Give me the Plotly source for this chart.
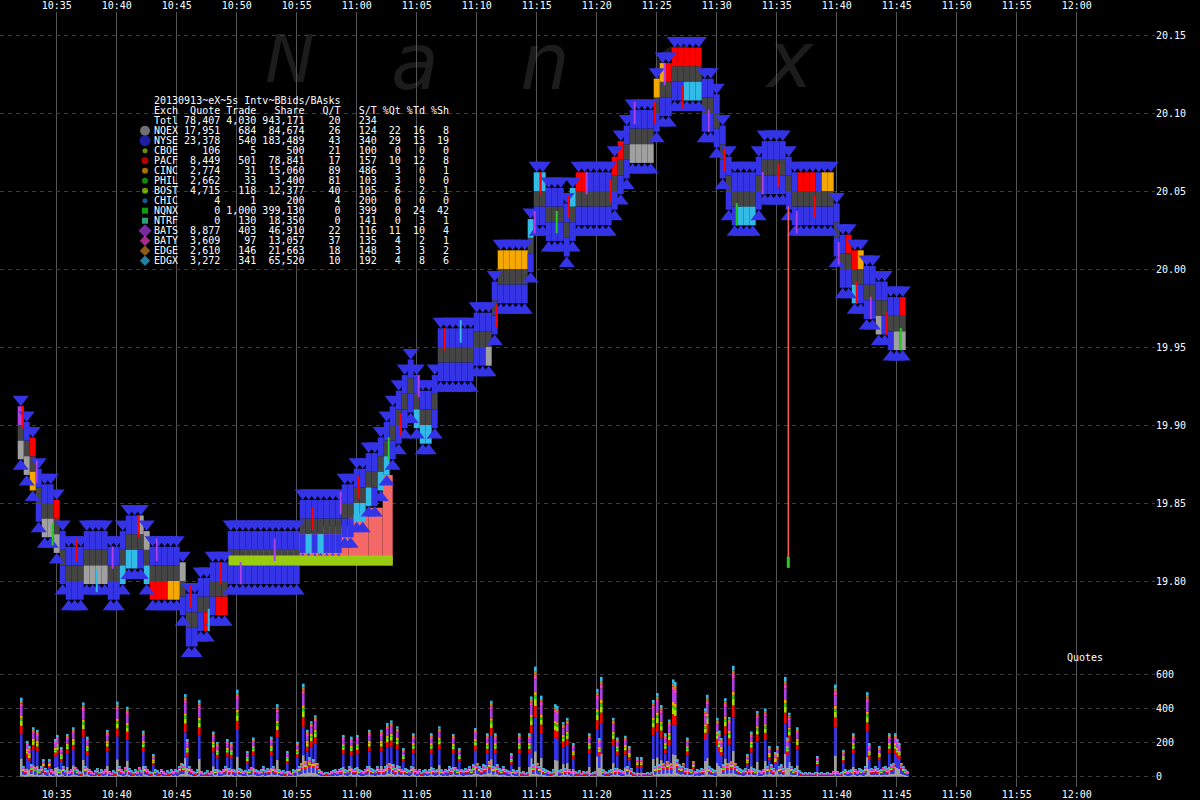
import plotly.graph_objects as go
import pandas as pd

DAY = "2013-09-13 "

# ---------------- NBBO, sampled every 30 s from 10:32:00 ----------------
ask = [
    19.90, 19.89, 19.88, 19.86, 19.85, 19.85, 19.84, 19.82, 19.81, 19.81,
    19.81, 19.82, 19.82, 19.82, 19.82, 19.81, 19.81, 19.82, 19.83, 19.83,
    19.83, 19.82, 19.81, 19.81, 19.81, 19.81, 19.81, 19.80, 19.78, 19.78,
    19.79, 19.79, 19.80, 19.80, 19.80, 19.82, 19.82, 19.82, 19.82, 19.82,
    19.82, 19.82, 19.82, 19.82, 19.82, 19.82, 19.82, 19.84, 19.84, 19.84,
    19.84, 19.84, 19.84, 19.84, 19.85, 19.85, 19.86, 19.86, 19.87, 19.87,
    19.88, 19.89, 19.90, 19.91, 19.92, 19.93, 19.92, 19.91, 19.91, 19.92,
    19.95, 19.95, 19.95, 19.95, 19.95, 19.95, 19.96, 19.96, 19.96, 19.98,
    20.00, 20.00, 20.00, 20.00, 20.00, 20.02, 20.05, 20.05, 20.04, 20.04,
    20.04, 20.03, 20.04, 20.05, 20.05, 20.05, 20.05, 20.05, 20.05, 20.06,
    20.07, 20.08, 20.09, 20.09, 20.09, 20.09, 20.11, 20.12, 20.12, 20.13,
    20.13, 20.13, 20.13, 20.13, 20.11, 20.11, 20.10, 20.08, 20.06, 20.05,
    20.05, 20.05, 20.05, 20.06, 20.07, 20.07, 20.07, 20.07, 20.06, 20.05,
    20.05, 20.05, 20.05, 20.05, 20.05, 20.05, 20.03, 20.01, 20.01, 20.00,
    20.00, 19.99, 19.99, 19.98, 19.98, 19.97, 19.97, 19.97,
]
bid = [
    19.89, 19.88, 19.87, 19.85, 19.84, 19.84, 19.83, 19.81, 19.80, 19.80,
    19.80, 19.81, 19.81, 19.81, 19.81, 19.80, 19.80, 19.81, 19.82, 19.82,
    19.82, 19.81, 19.80, 19.80, 19.80, 19.80, 19.80, 19.79, 19.77, 19.77,
    19.78, 19.78, 19.79, 19.79, 19.79, 19.81, 19.81, 19.81, 19.81, 19.81,
    19.81, 19.81, 19.81, 19.81, 19.81, 19.81, 19.81, 19.83, 19.83, 19.83,
    19.83, 19.83, 19.83, 19.83, 19.84, 19.84, 19.85, 19.85, 19.86, 19.86,
    19.87, 19.88, 19.89, 19.90, 19.91, 19.92, 19.91, 19.90, 19.90, 19.91,
    19.94, 19.94, 19.94, 19.94, 19.94, 19.94, 19.95, 19.95, 19.95, 19.97,
    19.99, 19.99, 19.99, 19.99, 19.99, 20.01, 20.04, 20.04, 20.03, 20.03,
    20.03, 20.02, 20.03, 20.04, 20.04, 20.04, 20.04, 20.04, 20.04, 20.05,
    20.06, 20.07, 20.08, 20.08, 20.08, 20.08, 20.10, 20.11, 20.11, 20.12,
    20.12, 20.12, 20.12, 20.12, 20.10, 20.10, 20.09, 20.07, 20.05, 20.04,
    20.04, 20.04, 20.04, 20.05, 20.06, 20.06, 20.06, 20.06, 20.05, 20.04,
    20.04, 20.04, 20.04, 20.04, 20.04, 20.04, 20.02, 20.00, 20.00, 19.99,
    19.99, 19.98, 19.98, 19.97, 19.97, 19.96, 19.96, 19.96,
]
# exchange at the best ask / best bid (one letter per 30 s sample)
ask_ex = ("BNPNNNPNNN" "NNNNNNNNNN" "QQNNNNNQNN" "NNNNNNNNNN" "NNNNNNNNNN"
          "NNNNNNNNNN" "NNNNNNNNNN" "NNNNNNNNNN" "CCCCCXXXNN" "NNXPPNNNNP"
          "PNNNNNCCPP" "PPPPNNNNNN" "NNNNNNNNNN" "PPPNCCNNPP" "CNNNNNNP")
bid_ex = ("QQCNQQQNNN" "NQQQQNNXXX" "NXPPPCCNNN" "NPNPPNNNNN" "NNNNNNNNXN"
          "XNNNNNXXXN" "XXNNNNXXXN" "NNNNNNNNQN" "NNNNNNNNNN" "NNNNNNNNNN"
          "NNQQQQNNNN" "NXXXNNNNNN" "XXXNNNNNNN" "NNNNNNNNNX" "NNNQNNQQ")

# pink shaded region (stepped top) and long-standing 19.81 bid band
salmon_start = ["10:50:40", "10:55:10", "10:56:50", "10:59:20", "11:01:00", "11:02:10"]
salmon_end   = ["10:55:10", "10:56:50", "10:59:20", "11:01:00", "11:02:10", "11:03:00"]
salmon_top   = [19.820, 19.831, 19.835, 19.843, 19.847, 19.868]
salmon_base  = 19.81
band_start, band_end, band_price = "10:49:20", "11:03:00", 19.81

# bad print
bad_time, bad_high, bad_low = "11:35:58", 20.04, 19.812

# short quote streaks from other exchanges
streak_t = ["10:32:10", "10:33:20", "10:34:40", "10:36:40", "10:38:20", "10:39:40", "10:41:50",
            "10:43:20", "10:46:10", "10:47:40", "10:48:40", "10:50:20", "10:53:10", "10:56:20",
            "10:58:40", "11:00:10", "11:02:40", "11:03:40", "11:05:10", "11:07:20", "11:08:40",
            "11:11:40", "11:14:50", "11:15:20", "11:16:40", "11:17:40", "11:19:10", "11:21:10",
            "11:23:10", "11:24:50", "11:25:40", "11:27:10", "11:29:20", "11:30:40", "11:31:40",
            "11:33:50", "11:35:10", "11:36:40", "11:38:10", "11:40:10", "11:41:40", "11:42:50",
            "11:44:10", "11:45:20"]
streak_px = [19.905, 19.87, 19.83, 19.82, 19.80, 19.815, 19.835, 19.82, 19.79, 19.775, 19.805,
             19.805, 19.82, 19.84, 19.85, 19.86, 19.885, 19.90, 19.925, 19.955, 19.96, 19.97,
             20.03, 20.055, 20.03, 20.04, 20.055, 20.05, 20.10, 20.10, 20.125, 20.11, 20.095,
             20.07, 20.035, 20.055, 20.06, 20.03, 20.04, 20.01, 19.985, 19.975, 19.965, 19.955]
streak_ex = ["P", "B", "H", "P", "X", "B", "P", "B", "P", "X", "P", "B", "B", "P", "B", "P",
             "H", "P", "B", "P", "X", "P", "B", "P", "H", "P", "B", "P", "B", "P", "B", "P",
             "B", "P", "H", "B", "P", "B", "P", "B", "P", "B", "P", "H"]

# quotes per 10 s from 10:32:00 (one row per minute)
quotes = [
    463, 60, 45, 210, 176, 70,
    290, 55, 275, 40, 60, 100,
    50, 35, 100, 45, 30, 220,
    245, 40, 170, 60, 35, 250,
    30, 45, 290, 55, 40, 30,
    25, 435, 60, 235, 45, 30,
    20, 35, 50, 25, 40, 30,
    45, 275, 30, 20, 35, 25,
    440, 60, 45, 30, 55, 410,
    50, 35, 25, 40, 30, 55,
    35, 270, 60, 45, 30, 25,
    130, 40, 35, 25, 45, 30,
    20, 35, 25, 40, 30, 45,
    35, 60, 80, 70, 484, 220,
    60, 45, 30, 25, 40, 450,
    30, 20, 25, 35, 20, 30,
    265, 40, 200, 35, 30, 45,
    60, 220, 50, 200, 45, 35,
    510, 50, 40, 30, 35, 150,
    40, 55, 230, 45, 35, 30,
    40, 60, 35, 50, 45, 235,
    60, 45, 425, 40, 30, 35,
    25, 150, 30, 20, 40, 35,
    205, 60, 80, 545, 90, 275,
    110, 325, 100, 360, 80, 40,
    30, 20, 25, 25, 20, 30,
    35, 40, 30, 45, 50, 245,
    40, 35, 60, 235, 45, 50,
    245, 40, 35, 30, 45, 60,
    275, 50, 40, 35, 60, 45,
    275, 45, 60, 315, 80, 330,
    70, 50, 295, 60, 45, 165,
    50, 40, 35, 60, 255, 45,
    30, 45, 25, 35, 40, 30,
    40, 255, 50, 35, 45, 295,
    40, 30, 45, 35, 60, 50,
    250, 55, 40, 165, 45, 35,
    50, 45, 60, 40, 70, 285,
    80, 60, 50, 70, 65, 255,
    90, 445, 60, 255, 70, 50,
    40, 60, 45, 35, 30, 135,
    40, 30, 35, 255, 25, 30,
    20, 25, 255, 470, 70, 645,
    80, 60, 475, 50, 40, 35,
    30, 25, 40, 425, 415, 35,
    40, 320, 50, 345, 45, 30,
    195, 30, 25, 35, 20, 30,
    25, 30, 255, 20, 25, 30,
    515, 225, 585, 40, 30, 25,
    35, 40, 345, 50, 230, 45,
    35, 30, 240, 60, 180, 50,
    25, 20, 110, 20, 110, 20,
    20, 25, 20, 25, 450, 60,
    490, 70, 420, 80, 255, 90,
    335, 80, 570, 555, 100, 70,
    60, 80, 50, 230, 45, 40,
    90, 30, 40, 35, 50, 45,
    400, 480, 60, 50, 40, 35,
    345, 270, 225, 70, 460, 80,
    350, 90, 650, 80, 60, 50,
    40, 35, 50, 130, 45, 265,
    50, 40, 385, 35, 30, 45,
    400, 60, 180, 70, 50, 140,
    180, 60, 70, 50, 585, 230,
    375, 60, 40, 50, 290, 35,
    25, 20, 25, 20, 25, 20,
    20, 25, 120, 20, 25, 20,
    20, 25, 20, 20, 30, 540,
    30, 20, 25, 155, 40, 30,
    35, 40, 255, 45, 30, 50,
    40, 35, 60, 495, 195, 50,
    45, 60, 50, 180, 40, 55,
    60, 50, 255, 70, 80, 255,
    220, 195, 80, 60, 40, 30,
]

# summary table
tbl_title = "20130913~eX~5s Intv~BBids/BAsks"
tbl_exch  = ["Totl", "NQEX", "NYSE", "CBOE", "PACF", "CINC", "PHIL", "BOST", "CHIC", "NQNX", "NTRF", "BATS", "BATY", "EDGE", "EDGX"]
tbl_quote = [78407, 17951, 23378, 106, 8449, 2774, 2662, 4715, 4, 0, 0, 8877, 3609, 2610, 3272]
tbl_trade = [4030, 684, 540, 5, 501, 31, 33, 118, 1, 1000, 130, 403, 97, 146, 341]
tbl_share = [943171, 84674, 183489, 500, 78841, 15060, 3400, 12377, 200, 399130, 18350, 46910, 13057, 21663, 65520]
tbl_qt    = [20, 26, 43, 21, 17, 89, 81, 40, 4, 0, 0, 22, 37, 18, 10]
tbl_st    = [234, 124, 340, 100, 157, 486, 103, 105, 200, 399, 141, 116, 135, 148, 192]
tbl_pqt   = [None, 22, 29, 0, 10, 3, 3, 6, 0, 0, 0, 11, 4, 3, 4]
tbl_ptd   = [None, 16, 13, 0, 12, 0, 0, 2, 0, 24, 3, 10, 2, 3, 8]
tbl_psh   = [None, 8, 19, 0, 8, 1, 0, 1, 0, 42, 1, 4, 1, 2, 6]

time_ticks = ["10:35", "10:40", "10:45", "10:50", "10:55", "11:00", "11:05", "11:10", "11:15",
              "11:20", "11:25", "11:30", "11:35", "11:40", "11:45", "11:50", "11:55", "12:00"]
price_ticks = [19.80, 19.85, 19.90, 19.95, 20.00, 20.05, 20.10, 20.15]
quote_ticks = [0, 200, 400, 600]

# ---------------- styling ----------------
EXC = {"N": "#3434e6", "Q": "#a0a0a0", "P": "#ff0000", "C": "#f5a800",
       "X": "#33bbe8", "B": "#b040e6", "Y": "#ff3cc8", "H": "#22cc22"}
TBL_MARK = {"NQEX": ("circle", "#a0a0a0", 10), "NYSE": ("circle", "#2a2ae6", 11),
            "CBOE": ("circle", "#96c814", 5), "PACF": ("circle", "#ff0000", 7),
            "CINC": ("circle", "#f0a000", 6), "PHIL": ("circle", "#1ebe1e", 6),
            "BOST": ("circle", "#a0e600", 6), "CHIC": ("circle", "#1e82c8", 5),
            "NQNX": ("square", "#14dc14", 6), "NTRF": ("square", "#3ce6aa", 6),
            "BATS": ("diamond", "#aa3ce6", 10), "BATY": ("diamond", "#f03cc8", 8),
            "EDGE": ("diamond", "#c8821e", 8), "EDGX": ("diamond", "#32b4e6", 8)}
VOL_STACK = [("NQEX", "#a0a0a0"), ("NYSE", "#3434e6"), ("PACF", "#ff0000"),
             ("BOST", "#aadd00"), ("PHIL", "#22cc22"), ("CINC", "#f5a800"),
             ("BATS", "#b040e6"), ("BATY", "#ff3cc8"), ("EDGE", "#c8821e"),
             ("EDGX", "#33bbe8")]
FONT = "DejaVu Sans Mono"

# plot area geometry (pixels)
PL, PR, PT, PB = 0, 1155, 12, 787
PX_PER_MIN = 12.0
T_LEFT = pd.Timestamp(DAY + "10:35:00") - pd.Timedelta(minutes=56.7 / PX_PER_MIN)
T_RIGHT = T_LEFT + pd.Timedelta(minutes=(PR - PL) / PX_PER_MIN)
PX_PER_CENT = 15.6
Y_TOP = 20.15 + (35 - PT) / PX_PER_CENT / 100
Y_BOT = 20.15 - (PB - 35) / PX_PER_CENT / 100
PPX = (Y_TOP - Y_BOT) / (PB - PT)           # price per pixel
Q_PPX = 600 / 102.4                          # quotes per pixel
Q_BOT = -(PB - 776.7) * Q_PPX
Q_TOP = (776.7 - PT) * Q_PPX


def tstamp(hms):
    return pd.Timestamp(DAY + hms)


def px_to_time(px):
    return T_LEFT + pd.Timedelta(minutes=(px - PL) / PX_PER_MIN)


def px_to_price(py):
    return Y_TOP - (py - PT) * PPX


def paper_x(px):
    return (px - PL) / (PR - PL)


def paper_y(py):
    return (PB - py) / (PB - PT)


t0 = tstamp("10:32:00")
times = [t0 + pd.Timedelta(seconds=30 * k) for k in range(len(ask))]
vol_times = [t0 + pd.Timedelta(seconds=10 * i + 5) for i in range(len(quotes))]

fig = go.Figure()

# pink stepped region
s_start = [tstamp(s) for s in salmon_start]
s_end = [tstamp(s) for s in salmon_end]
fig.add_trace(go.Bar(
    x=[a + (b - a) / 2 for a, b in zip(s_start, s_end)],
    y=[top - salmon_base for top in salmon_top],
    base=[salmon_base] * len(salmon_top),
    width=[(b - a).total_seconds() * 1000 for a, b in zip(s_start, s_end)],
    marker=dict(color="#f46868", line=dict(width=0)), hoverinfo="skip"))

BW = 30000
LEVEL = 0.012
# spread boxes
fig.add_trace(go.Bar(x=times, y=[a - b for a, b in zip(ask, bid)], base=bid, width=BW,
                     marker=dict(color="#444444", line=dict(width=0)), hoverinfo="skip"))
# best ask / best bid blocks
fig.add_trace(go.Bar(x=times, y=[LEVEL] * len(ask), base=ask, width=BW,
                     marker=dict(color=[EXC[c] for c in ask_ex], line=dict(width=0)),
                     hoverinfo="skip"))
fig.add_trace(go.Bar(x=times, y=[LEVEL] * len(bid), base=[b - LEVEL for b in bid], width=BW,
                     marker=dict(color=[EXC[c] for c in bid_ex], line=dict(width=0)),
                     hoverinfo="skip"))

# deeper quote triangles (tips point at the book)
TRI = 14
r = TRI / 2
fig.add_trace(go.Scatter(x=times, y=[a + LEVEL + r * PPX for a in ask], mode="markers",
                         marker=dict(symbol="triangle-down", size=TRI, color=EXC["N"],
                                     line=dict(width=0)), hoverinfo="skip"))
fig.add_trace(go.Scatter(x=times, y=[b - LEVEL - r * PPX for b in bid], mode="markers",
                         marker=dict(symbol="triangle-up", size=TRI, color=EXC["N"],
                                     line=dict(width=0)), hoverinfo="skip"))

# long-standing 19.81 bid band
fig.add_trace(go.Scatter(x=[tstamp(band_start), tstamp(band_end)],
                         y=[band_price + 5 * PPX] * 2, mode="lines",
                         line=dict(color="#99cc11", width=10), hoverinfo="skip"))

# quote streaks
fig.add_trace(go.Scatter(x=[tstamp(s) for s in streak_t], y=streak_px, mode="markers",
                         marker=dict(symbol="line-ns", size=16,
                                     line=dict(width=2, color=[EXC[c] for c in streak_ex])),
                         hoverinfo="skip"))

# bad print
fig.add_trace(go.Scatter(x=[tstamp(bad_time)] * 2, y=[bad_high, bad_low], mode="lines",
                         line=dict(color="#ff5a5a", width=1.5), hoverinfo="skip"))
fig.add_trace(go.Scatter(x=[tstamp(bad_time)], y=[bad_low], mode="markers",
                         marker=dict(symbol="line-ns", size=8, line=dict(width=3, color="#22cc22")),
                         hoverinfo="skip"))

# quotes histogram (stacked by exchange share of quotes)
pct = dict(zip(tbl_exch, tbl_pqt))
tot_pct = sum(pct[e] for e, _ in VOL_STACK)
cum = [0.0] * len(quotes)
for ex, col in VOL_STACK:
    h = [q * pct[ex] / tot_pct for q in quotes]
    fig.add_trace(go.Bar(x=vol_times, y=h, base=list(cum), width=9000, yaxis="y2",
                         marker=dict(color=col, line=dict(width=0)), hoverinfo="skip"))
    cum = [c + v for c, v in zip(cum, h)]

# dummy trace for bottom time axis
fig.add_trace(go.Scatter(x=[T_LEFT], y=[20.0], xaxis="x2", mode="markers",
                         marker=dict(opacity=0), hoverinfo="skip"))

# table markers (pixel overlay axes)
mk = [TBL_MARK[e] for e in tbl_exch[1:]]
fig.add_trace(go.Scatter(x=[145] * len(mk), y=[130.7 + 10 * i for i in range(len(mk))],
                         xaxis="x3", yaxis="y3", mode="markers",
                         marker=dict(symbol=[m[0] for m in mk], color=[m[1] for m in mk],
                                     size=[m[2] for m in mk], line=dict(width=0)),
                         hoverinfo="skip"))


# table text
def fmt(v):
    return "" if v is None else f"{v:,}"


rows = [tbl_title,
        f"{'Exch':<4}{'Quote':>7}{'Trade':>6}{'Share':>8}{'Q/T':>6}{'S/T':>6}{'%Qt':>4}{'%Td':>4}{'%Sh':>4}"]
for i, e in enumerate(tbl_exch):
    rows.append(f"{e:<4}{fmt(tbl_quote[i]):>7}{fmt(tbl_trade[i]):>6}{fmt(tbl_share[i]):>8}"
                f"{fmt(tbl_qt[i]):>6}{fmt(tbl_st[i]):>6}{fmt(tbl_pqt[i]):>4}"
                f"{fmt(tbl_ptd[i]):>4}{fmt(tbl_psh[i]):>4}")
annotations = []
for j, row in enumerate(rows):
    yrow = 100.7 + 10 * j
    annotations.append(dict(text=row.replace(" ", "&nbsp;"), xref="paper", yref="paper",
                            x=paper_x(151.7), y=paper_y(yrow), xanchor="left", yanchor="middle",
                            showarrow=False, font=dict(family=FONT, size=10, color="#ffffff")))
annotations.append(dict(text="Quotes", xref="paper", yref="paper", x=paper_x(1085),
                        y=paper_y(657), xanchor="center", yanchor="middle", showarrow=False,
                        font=dict(family=FONT, size=10, color="#ffffff")))

# watermark letters (drawn below the data)
shapes = []
for ch, cx, cy, sz in [("N", 290, 54, 66), ("a", 415, 56, 78), ("n", 545, 56, 78),
                       ("e", 675, 56, 78), ("x", 790, 54, 78)]:
    shapes.append(dict(type="rect", xref="x", yref="y", layer="below",
                       x0=px_to_time(cx - 40), x1=px_to_time(cx + 40),
                       y0=px_to_price(cy + 40), y1=px_to_price(cy - 40),
                       line=dict(width=0), fillcolor="rgba(0,0,0,0)",
                       label=dict(text=ch, textposition="middle center",
                                  font=dict(family="DejaVu Sans", size=sz, color="#1c1c1c",
                                            style="italic"))))

tick_font = dict(family=FONT, size=10, color="#ffffff")
tvals = [tstamp(s + ":00") for s in time_ticks]
xcommon = dict(type="date", range=[T_LEFT, T_RIGHT], tickvals=tvals, ticktext=time_ticks,
               ticks="", showline=False, zeroline=False, tickfont=tick_font)
fig.update_layout(
    width=1200, height=800,
    margin=dict(l=PL, r=1200 - PR, t=PT, b=800 - PB, autoexpand=False),
    paper_bgcolor="#000000", plot_bgcolor="#000000",
    showlegend=False, barmode="overlay", hovermode=False,
    xaxis=dict(**xcommon, side="top", showgrid=True, gridcolor="#555555", gridwidth=1),
    xaxis2=dict(**xcommon, side="bottom", overlaying="x", anchor="y", showgrid=False),
    yaxis=dict(range=[Y_BOT, Y_TOP], side="right", tickvals=price_ticks,
               ticktext=[f"{v:.2f}" for v in price_ticks], showgrid=True,
               gridcolor="#3c3c3c", griddash="4px,4px", gridwidth=1, zeroline=False,
               ticks="", tickfont=tick_font, showline=False),
    yaxis2=dict(range=[Q_BOT, Q_TOP], side="right", overlaying="y", tickvals=quote_ticks,
                showgrid=True, gridcolor="#3c3c3c", griddash="4px,4px", gridwidth=1,
                zeroline=False, ticks="", tickfont=tick_font, showline=False),
    xaxis3=dict(range=[PL, PR], overlaying="x", visible=False),
    yaxis3=dict(range=[PB, PT], overlaying="y", visible=False),
    annotations=annotations,
    shapes=shapes,
)

fig.write_html(
    "out.html",
    config={"displayModeBar": False},
    post_script="document.body.style.margin='0';document.body.style.padding='0';"
                "document.body.style.overflow='hidden';document.body.style.background='#000';",
)
